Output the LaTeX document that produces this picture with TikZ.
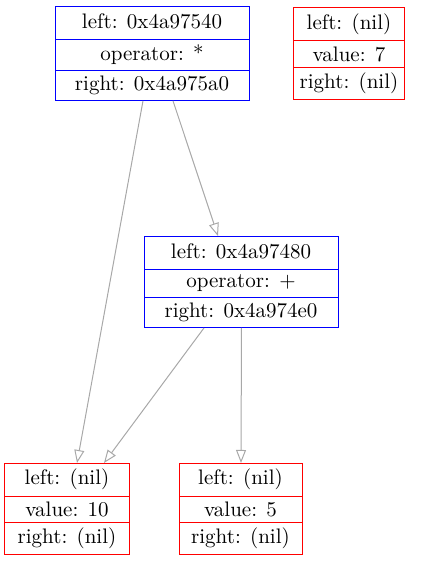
\documentclass[tikz,border=0pt]{standalone}
\usepackage{tikz}
\usetikzlibrary{calc,shapes.multipart,arrows.meta}
\definecolor{edgegray}{HTML}{A8A8A8}

\begin{document}
\begin{tikzpicture}[x=0.5pt,y=-0.5pt,
    opnode/.style={rectangle split,rectangle split parts=3,draw=blue,line width=0.5pt,
      font=\fontsize{10.5}{12}\selectfont,text height=8pt,text depth=3pt,
      inner ysep=2.5pt,inner xsep=2pt,minimum width=97pt},
    numnode/.style={opnode,draw=red},
    ptr/.style={draw=edgegray,line width=0.5pt,-{Triangle[open,length=6.5pt,width=5pt]}}]
            \useasboundingbox (0,0) rectangle (431,564);

            \node[opnode] (mul) at (152,53.5)
              {left: 0x4a97540 \nodepart{two} operator: * \nodepart{three} right: 0x4a975a0};
            \node[numnode,minimum width=48pt,inner xsep=3pt] (seven) at (349,53.5)
              {left: (nil) \nodepart{two} value: 7 \nodepart{three} right: (nil)};
            \node[opnode] (add) at (241,282)
              {left: 0x4a97480 \nodepart{two} operator: + \nodepart{three} right: 0x4a974e0};
            \node[numnode,minimum width=62pt] (ten) at (67,509)
              {left: (nil) \nodepart{two} value: 10 \nodepart{three} right: (nil)};
            \node[numnode,minimum width=61.5pt] (five) at (240.5,509)
              {left: (nil) \nodepart{two} value: 5 \nodepart{three} right: (nil)};

            \draw[ptr] ([xshift=-4.5pt]mul.south) -- ([xshift=5pt]ten.north);
            \draw[ptr] ([xshift=10.5pt]mul.south) -- ([xshift=-11.5pt]add.north);
            \draw[ptr] ([xshift=-18.5pt]add.south) -- ([xshift=18.5pt]ten.north);
            \draw[ptr] ([xshift=0.25pt]add.south) -- ([xshift=0.25pt]five.north);

\end{tikzpicture}
\end{document}
